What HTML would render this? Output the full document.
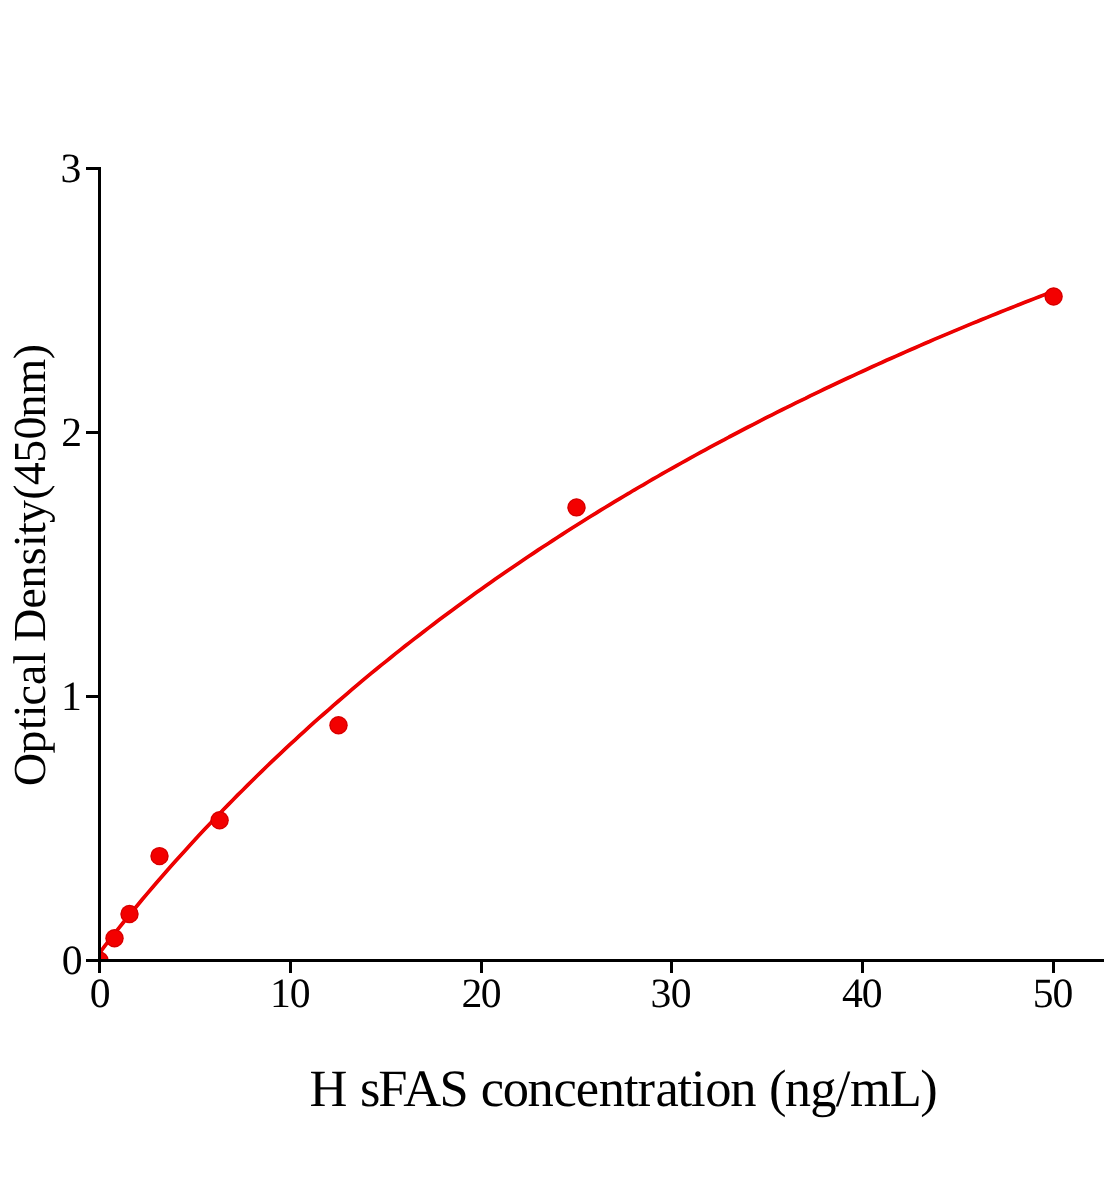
<!DOCTYPE html>
<html><head><meta charset="utf-8"><title>H sFAS standard curve</title>
<style>
html,body{margin:0;padding:0;background:#fff;}
body{width:1104px;height:1200px;overflow:hidden;}
svg{display:block;will-change:transform;}
text{font-family:"Liberation Serif",serif;fill:#000;text-rendering:geometricPrecision;}
</style></head><body>
<svg width="1104" height="1200" viewBox="0 0 1104 1200">
<rect width="1104" height="1200" fill="#fff"/>
<defs><clipPath id="plot"><rect x="99.5" y="0" width="1010" height="960.5"/></clipPath></defs>
<g clip-path="url(#plot)">
<path d="M99.5,953.1 L104.3,946.7 L109.0,940.5 L113.8,934.4 L118.6,928.4 L123.3,922.5 L128.1,916.6 L132.9,910.8 L137.7,905.0 L142.4,899.3 L147.2,893.6 L152.0,888.0 L156.7,882.5 L161.5,877.0 L166.3,871.5 L171.1,866.1 L175.8,860.8 L180.6,855.5 L185.4,850.2 L190.1,845.0 L194.9,839.8 L199.7,834.6 L204.4,829.5 L209.2,824.5 L214.0,819.5 L218.8,814.5 L223.5,809.5 L228.3,804.6 L233.1,799.8 L237.8,794.9 L242.6,790.2 L247.4,785.4 L252.1,780.7 L256.9,776.0 L261.7,771.4 L266.4,766.8 L271.2,762.2 L276.0,757.6 L280.8,753.1 L285.5,748.6 L290.3,744.2 L295.1,739.8 L299.8,735.4 L304.6,731.1 L309.4,726.7 L314.1,722.4 L318.9,718.2 L323.7,714.0 L328.5,709.8 L333.2,705.6 L338.0,701.5 L342.8,697.3 L347.5,693.3 L352.3,689.2 L357.1,685.2 L361.8,681.2 L366.6,677.2 L371.4,673.2 L376.2,669.3 L380.9,665.4 L385.7,661.6 L390.5,657.7 L395.2,653.9 L400.0,650.1 L404.8,646.3 L409.5,642.6 L414.3,638.9 L419.1,635.2 L423.9,631.5 L428.6,627.9 L433.4,624.2 L438.2,620.6 L442.9,617.1 L447.7,613.5 L452.5,610.0 L457.2,606.5 L462.0,603.0 L466.8,599.5 L471.6,596.0 L476.3,592.6 L481.1,589.2 L485.9,585.8 L490.6,582.5 L495.4,579.1 L500.2,575.8 L504.9,572.5 L509.7,569.2 L514.5,566.0 L519.3,562.7 L524.0,559.5 L528.8,556.3 L533.6,553.1 L538.3,549.9 L543.1,546.8 L547.9,543.7 L552.6,540.6 L557.4,537.5 L562.2,534.4 L567.0,531.3 L571.7,528.3 L576.5,525.3 L581.3,522.3 L586.0,519.3 L590.8,516.3 L595.6,513.4 L600.3,510.4 L605.1,507.5 L609.9,504.6 L614.7,501.7 L619.4,498.9 L624.2,496.0 L629.0,493.2 L633.7,490.3 L638.5,487.5 L643.3,484.8 L648.0,482.0 L652.8,479.2 L657.6,476.5 L662.4,473.7 L667.1,471.0 L671.9,468.3 L676.7,465.6 L681.4,463.0 L686.2,460.3 L691.0,457.7 L695.8,455.0 L700.5,452.4 L705.3,449.8 L710.1,447.2 L714.8,444.7 L719.6,442.1 L724.4,439.6 L729.1,437.0 L733.9,434.5 L738.7,432.0 L743.4,429.5 L748.2,427.0 L753.0,424.6 L757.8,422.1 L762.5,419.7 L767.3,417.2 L772.1,414.8 L776.8,412.4 L781.6,410.0 L786.4,407.7 L791.1,405.3 L795.9,402.9 L800.7,400.6 L805.5,398.3 L810.2,395.9 L815.0,393.6 L819.8,391.3 L824.5,389.0 L829.3,386.8 L834.1,384.5 L838.8,382.3 L843.6,380.0 L848.4,377.8 L853.2,375.6 L857.9,373.4 L862.7,371.2 L867.5,369.0 L872.2,366.8 L877.0,364.6 L881.8,362.5 L886.5,360.3 L891.3,358.2 L896.1,356.1 L900.9,354.0 L905.6,351.9 L910.4,349.8 L915.2,347.7 L919.9,345.6 L924.7,343.5 L929.5,341.5 L934.2,339.4 L939.0,337.4 L943.8,335.4 L948.6,333.4 L953.3,331.4 L958.1,329.4 L962.9,327.4 L967.6,325.4 L972.4,323.4 L977.2,321.5 L981.9,319.5 L986.7,317.6 L991.5,315.6 L996.3,313.7 L1001.0,311.8 L1005.8,309.9 L1010.6,308.0 L1015.3,306.1 L1020.1,304.2 L1024.9,302.3 L1029.6,300.5 L1034.4,298.6 L1039.2,296.8 L1044.0,294.9 L1048.7,293.1 L1053.5,291.3" fill="none" stroke="#f30000" stroke-width="3.7" stroke-linejoin="round"/>
<path d="M99.5,953.1 L104.3,946.7 L109.0,940.5 L113.8,934.4 L118.6,928.4 L123.3,922.5 L128.1,916.6 L132.9,910.8 L137.7,905.0 L142.4,899.3 L147.2,893.6 L152.0,888.0 L156.7,882.5 L161.5,877.0 L166.3,871.5 L171.1,866.1 L175.8,860.8 L180.6,855.5 L185.4,850.2 L190.1,845.0 L194.9,839.8 L199.7,834.6 L204.4,829.5 L209.2,824.5 L214.0,819.5 L218.8,814.5 L223.5,809.5 L228.3,804.6 L233.1,799.8 L237.8,794.9 L242.6,790.2 L247.4,785.4 L252.1,780.7 L256.9,776.0 L261.7,771.4 L266.4,766.8 L271.2,762.2 L276.0,757.6 L280.8,753.1 L285.5,748.6 L290.3,744.2 L295.1,739.8 L299.8,735.4 L304.6,731.1 L309.4,726.7 L314.1,722.4 L318.9,718.2 L323.7,714.0 L328.5,709.8 L333.2,705.6 L338.0,701.5 L342.8,697.3 L347.5,693.3 L352.3,689.2 L357.1,685.2 L361.8,681.2 L366.6,677.2 L371.4,673.2 L376.2,669.3 L380.9,665.4 L385.7,661.6 L390.5,657.7 L395.2,653.9 L400.0,650.1 L404.8,646.3 L409.5,642.6 L414.3,638.9 L419.1,635.2 L423.9,631.5 L428.6,627.9 L433.4,624.2 L438.2,620.6 L442.9,617.1 L447.7,613.5 L452.5,610.0 L457.2,606.5 L462.0,603.0 L466.8,599.5 L471.6,596.0 L476.3,592.6 L481.1,589.2 L485.9,585.8 L490.6,582.5 L495.4,579.1 L500.2,575.8 L504.9,572.5 L509.7,569.2 L514.5,566.0 L519.3,562.7 L524.0,559.5 L528.8,556.3 L533.6,553.1 L538.3,549.9 L543.1,546.8 L547.9,543.7 L552.6,540.6 L557.4,537.5 L562.2,534.4 L567.0,531.3 L571.7,528.3 L576.5,525.3 L581.3,522.3 L586.0,519.3 L590.8,516.3 L595.6,513.4 L600.3,510.4 L605.1,507.5 L609.9,504.6 L614.7,501.7 L619.4,498.9 L624.2,496.0 L629.0,493.2 L633.7,490.3 L638.5,487.5 L643.3,484.8 L648.0,482.0 L652.8,479.2 L657.6,476.5 L662.4,473.7 L667.1,471.0 L671.9,468.3 L676.7,465.6 L681.4,463.0 L686.2,460.3 L691.0,457.7 L695.8,455.0 L700.5,452.4 L705.3,449.8 L710.1,447.2 L714.8,444.7 L719.6,442.1 L724.4,439.6 L729.1,437.0 L733.9,434.5 L738.7,432.0 L743.4,429.5 L748.2,427.0 L753.0,424.6 L757.8,422.1 L762.5,419.7 L767.3,417.2 L772.1,414.8 L776.8,412.4 L781.6,410.0 L786.4,407.7 L791.1,405.3 L795.9,402.9 L800.7,400.6 L805.5,398.3 L810.2,395.9 L815.0,393.6 L819.8,391.3 L824.5,389.0 L829.3,386.8 L834.1,384.5 L838.8,382.3 L843.6,380.0 L848.4,377.8 L853.2,375.6 L857.9,373.4 L862.7,371.2 L867.5,369.0 L872.2,366.8 L877.0,364.6 L881.8,362.5 L886.5,360.3 L891.3,358.2 L896.1,356.1 L900.9,354.0 L905.6,351.9 L910.4,349.8 L915.2,347.7 L919.9,345.6 L924.7,343.5 L929.5,341.5 L934.2,339.4 L939.0,337.4 L943.8,335.4 L948.6,333.4 L953.3,331.4 L958.1,329.4 L962.9,327.4 L967.6,325.4 L972.4,323.4 L977.2,321.5 L981.9,319.5 L986.7,317.6 L991.5,315.6 L996.3,313.7 L1001.0,311.8 L1005.8,309.9 L1010.6,308.0 L1015.3,306.1 L1020.1,304.2 L1024.9,302.3 L1029.6,300.5 L1034.4,298.6 L1039.2,296.8 L1044.0,294.9 L1048.7,293.1 L1053.5,291.3" fill="none" stroke="#800000" stroke-opacity="0.22" stroke-width="3.0" stroke-linejoin="round"/>
<path d="M99.5,953.1 L104.3,946.7 L109.0,940.5 L113.8,934.4 L118.6,928.4 L123.3,922.5 L128.1,916.6 L132.9,910.8 L137.7,905.0 L142.4,899.3 L147.2,893.6 L152.0,888.0 L156.7,882.5 L161.5,877.0 L166.3,871.5 L171.1,866.1 L175.8,860.8 L180.6,855.5 L185.4,850.2 L190.1,845.0 L194.9,839.8 L199.7,834.6 L204.4,829.5 L209.2,824.5 L214.0,819.5 L218.8,814.5 L223.5,809.5 L228.3,804.6 L233.1,799.8 L237.8,794.9 L242.6,790.2 L247.4,785.4 L252.1,780.7 L256.9,776.0 L261.7,771.4 L266.4,766.8 L271.2,762.2 L276.0,757.6 L280.8,753.1 L285.5,748.6 L290.3,744.2 L295.1,739.8 L299.8,735.4 L304.6,731.1 L309.4,726.7 L314.1,722.4 L318.9,718.2 L323.7,714.0 L328.5,709.8 L333.2,705.6 L338.0,701.5 L342.8,697.3 L347.5,693.3 L352.3,689.2 L357.1,685.2 L361.8,681.2 L366.6,677.2 L371.4,673.2 L376.2,669.3 L380.9,665.4 L385.7,661.6 L390.5,657.7 L395.2,653.9 L400.0,650.1 L404.8,646.3 L409.5,642.6 L414.3,638.9 L419.1,635.2 L423.9,631.5 L428.6,627.9 L433.4,624.2 L438.2,620.6 L442.9,617.1 L447.7,613.5 L452.5,610.0 L457.2,606.5 L462.0,603.0 L466.8,599.5 L471.6,596.0 L476.3,592.6 L481.1,589.2 L485.9,585.8 L490.6,582.5 L495.4,579.1 L500.2,575.8 L504.9,572.5 L509.7,569.2 L514.5,566.0 L519.3,562.7 L524.0,559.5 L528.8,556.3 L533.6,553.1 L538.3,549.9 L543.1,546.8 L547.9,543.7 L552.6,540.6 L557.4,537.5 L562.2,534.4 L567.0,531.3 L571.7,528.3 L576.5,525.3 L581.3,522.3 L586.0,519.3 L590.8,516.3 L595.6,513.4 L600.3,510.4 L605.1,507.5 L609.9,504.6 L614.7,501.7 L619.4,498.9 L624.2,496.0 L629.0,493.2 L633.7,490.3 L638.5,487.5 L643.3,484.8 L648.0,482.0 L652.8,479.2 L657.6,476.5 L662.4,473.7 L667.1,471.0 L671.9,468.3 L676.7,465.6 L681.4,463.0 L686.2,460.3 L691.0,457.7 L695.8,455.0 L700.5,452.4 L705.3,449.8 L710.1,447.2 L714.8,444.7 L719.6,442.1 L724.4,439.6 L729.1,437.0 L733.9,434.5 L738.7,432.0 L743.4,429.5 L748.2,427.0 L753.0,424.6 L757.8,422.1 L762.5,419.7 L767.3,417.2 L772.1,414.8 L776.8,412.4 L781.6,410.0 L786.4,407.7 L791.1,405.3 L795.9,402.9 L800.7,400.6 L805.5,398.3 L810.2,395.9 L815.0,393.6 L819.8,391.3 L824.5,389.0 L829.3,386.8 L834.1,384.5 L838.8,382.3 L843.6,380.0 L848.4,377.8 L853.2,375.6 L857.9,373.4 L862.7,371.2 L867.5,369.0 L872.2,366.8 L877.0,364.6 L881.8,362.5 L886.5,360.3 L891.3,358.2 L896.1,356.1 L900.9,354.0 L905.6,351.9 L910.4,349.8 L915.2,347.7 L919.9,345.6 L924.7,343.5 L929.5,341.5 L934.2,339.4 L939.0,337.4 L943.8,335.4 L948.6,333.4 L953.3,331.4 L958.1,329.4 L962.9,327.4 L967.6,325.4 L972.4,323.4 L977.2,321.5 L981.9,319.5 L986.7,317.6 L991.5,315.6 L996.3,313.7 L1001.0,311.8 L1005.8,309.9 L1010.6,308.0 L1015.3,306.1 L1020.1,304.2 L1024.9,302.3 L1029.6,300.5 L1034.4,298.6 L1039.2,296.8 L1044.0,294.9 L1048.7,293.1 L1053.5,291.3" fill="none" stroke="#f30000" stroke-width="2.0" stroke-linejoin="round"/>
<g fill="#f30000">
<circle cx="99.5" cy="960.5" r="9.2"/>
<circle cx="114.5" cy="938.2" r="9.2"/>
<circle cx="129.5" cy="914.0" r="9.2"/>
<circle cx="159.5" cy="856.1" r="9.2"/>
<circle cx="219.6" cy="820.3" r="9.2"/>
<circle cx="338.5" cy="725.2" r="9.2"/>
<circle cx="576.5" cy="507.4" r="9.2"/>
<circle cx="1053.6" cy="296.5" r="9.2"/>
</g>
<g fill="none" stroke="#700000" stroke-width="0.7" stroke-opacity="0.4">
<circle cx="99.5" cy="960.5" r="8.45"/>
<circle cx="114.5" cy="938.2" r="8.45"/>
<circle cx="129.5" cy="914.0" r="8.45"/>
<circle cx="159.5" cy="856.1" r="8.45"/>
<circle cx="219.6" cy="820.3" r="8.45"/>
<circle cx="338.5" cy="725.2" r="8.45"/>
<circle cx="576.5" cy="507.4" r="8.45"/>
<circle cx="1053.6" cy="296.5" r="8.45"/>
</g>
</g>
<g fill="#000" shape-rendering="crispEdges">
<rect x="98" y="167" width="3" height="806"/>
<rect x="86" y="959" width="1018" height="3"/>
<rect x="86" y="167" width="13" height="3"/>
<rect x="86" y="431" width="13" height="3"/>
<rect x="86" y="695" width="13" height="3"/>
<rect x="289" y="960" width="3" height="13"/>
<rect x="480" y="960" width="3" height="13"/>
<rect x="670" y="960" width="3" height="13"/>
<rect x="861" y="960" width="3" height="13"/>
<rect x="1052" y="960" width="3" height="13"/>
</g>
<g font-size="41.67">
<text x="60.53" y="181.9">3</text>
<text x="61.33" y="445.7">2</text>
<text x="60.95" y="709.5">1</text>
<text x="61.73" y="973.9">0</text>
<text x="89.68" y="1007.3">0</text>
<text x="270.1 289.68" y="1007.3">10</text>
<text x="461.58 480.83" y="1007.3">20</text>
<text x="650.58 670.83" y="1007.3">30</text>
<text x="842.05 861.83" y="1007.3">40</text>
<text x="1032.63 1052.58" y="1007.3">50</text>
</g>
<text font-size="52.5" y="1106" x="309.60 317.60 359.95 378.20 403.30 439.40 447.40 480.70 502.80 527.45 553.50 575.80 598.65 624.00 637.40 655.45 677.60 691.00 705.30 730.25 738.25 769.05 784.75 810.25 835.70 850.10 889.80 920.35">H sFAS concentration (ng/mL)</text>
<text font-size="45.83" transform="translate(44.8,0) rotate(-90)" y="0" x="-786.10 -753.40 -730.00 -717.20 -705.55 -685.00 -664.55 -656.55 -641.85 -608.55 -588.50 -565.25 -547.00 -535.10 -523.00 -499.70 -485.30 -462.65 -439.55 -417.60 -394.50 -359.20">Optical Density(450nm)</text>
</svg>
</body></html>
